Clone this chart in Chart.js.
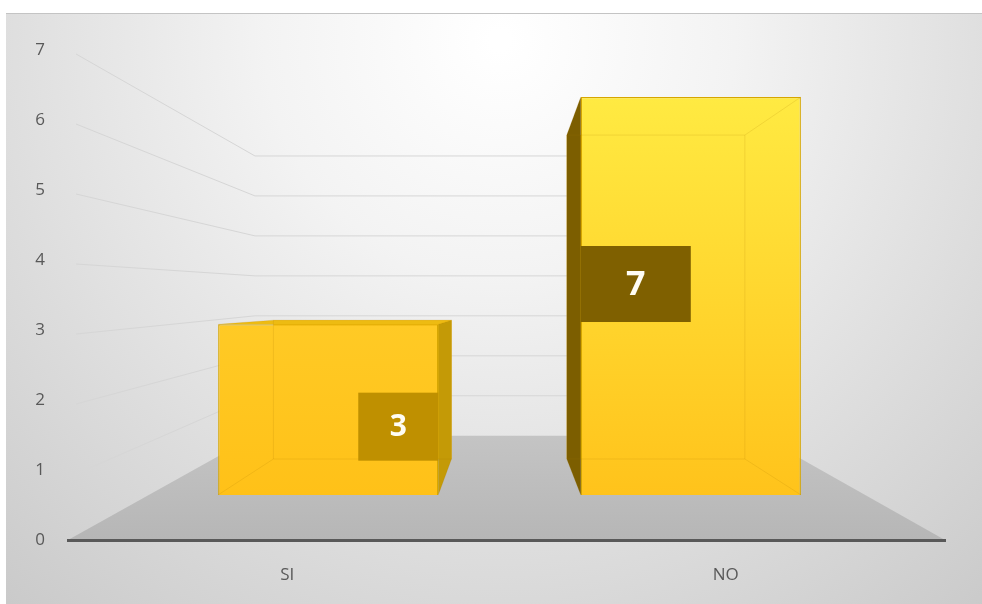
<!DOCTYPE html>
<html>
<head>
<meta charset="utf-8">
<script src="https://cdn.jsdelivr.net/npm/chart.js@4.4.1/dist/chart.umd.min.js"></script>
<style>
  html, body { margin: 0; padding: 0; background: #fff; }
  canvas { display: block; }
</style>
</head>
<body>
<canvas id="chart" width="982" height="604"></canvas>
<script>
const categories = ['SI', 'NO']
const counts = [3, 7]
const yTicks = [0, 1, 2, 3, 4, 5, 6, 7]

// depth planes of the 3d box: scale about a vanishing point, from the front plane
const planes = {
    barFront: {sx: 0.827, sy: 0.812, vx: 524, vy: 300},
    barBack: {sx: 0.669, sy: 0.661, vx: 514.5, vy: 301},
    wall: {sx: 0.576, sy: 0.571, vx: 509, vy: 297}
}
const proj = (p, x, y) => ({x: p.vx + p.sx * (x - p.vx), y: p.vy + p.sy * (y - p.vy)})

// per bar look
const faceTop = ['#FFCA25', '#FFEA42']
const faceBottom = ['#FFC118', '#FFC31B']
const sideLeft = '#7C5E00'
const sideRight = '#C49A06'
const topColor = '#EDBB12'
const labelBoxes = [
    {w: 80, h: 68, align: 'right', at: 0.6, fill: '#BF9000', size: 30},
    {w: 110, h: 76, align: 'left', at: 0.47, fill: '#7F6000', size: 34}
]
const tickFont = {size: 17, family: '"Open Sans", sans-serif'}

const poly = (ctx, pts) => {
    ctx.beginPath()
    ctx.moveTo(pts[0].x, pts[0].y)
    pts.slice(1).forEach(p => ctx.lineTo(p.x, p.y))
    ctx.closePath()
}

const barBox = bar => {
    const {x, y, base, width} = bar.getProps(['x', 'y', 'base', 'width'], true)
    return {l: x - width / 2, r: x + width / 2, t: y, b: base}
}

const scene3d = {
    id: 'scene3d',
    beforeDraw(chart) {
        const {ctx, width, height, chartArea: a, scales: {y}} = chart
        ctx.save()
        ctx.fillStyle = '#fff'
        ctx.fillRect(0, 0, width, height)

        const g = ctx.createRadialGradient(500, 40, 10, 500, 40, 760)
        g.addColorStop(0, '#ffffff')
        g.addColorStop(0.3, '#f3f3f3')
        g.addColorStop(0.75, '#d8d8d8')
        g.addColorStop(1, '#c9c9c9')
        ctx.fillStyle = g
        ctx.fillRect(6, 13, width - 6, height - 13)
        ctx.strokeStyle = '#c4c4c4'
        ctx.lineWidth = 1
        ctx.beginPath()
        ctx.moveTo(6, 13.5)
        ctx.lineTo(width, 13.5)
        ctx.stroke()

        // floor
        const w = planes.wall
        const bl = proj(w, a.left, a.bottom), br = proj(w, a.right, a.bottom)
        const fg = ctx.createLinearGradient(0, bl.y, 0, a.bottom)
        fg.addColorStop(0, '#c4c4c4')
        fg.addColorStop(1, '#b6b6b6')
        ctx.fillStyle = fg
        poly(ctx, [{x: a.left, y: a.bottom}, {x: a.right, y: a.bottom}, br, bl])
        ctx.fill()

        // side wall and back wall grid lines
        ctx.strokeStyle = '#d6d6d6'
        ctx.lineWidth = 1
        y.ticks.forEach(t => {
            if (t.value === 0) return
            const py = y.getPixelForValue(t.value)
            const p0 = proj(w, a.left, py), p1 = proj(w, a.right, py)
            ctx.beginPath()
            ctx.moveTo(a.left + 8, py + 4)
            ctx.lineTo(p0.x, p0.y)
            ctx.lineTo(p1.x, p1.y)
            ctx.stroke()
        })
        ctx.restore()
    },
    beforeDatasetsDraw(chart) {
        const {ctx} = chart
        const F = planes.barFront, B = planes.barBack
        ctx.save()
        chart.getDatasetMeta(0).data.forEach((bar, i) => {
            const r = barBox(bar)
            const fTL = proj(F, r.l, r.t), fTR = proj(F, r.r, r.t)
            const fBL = proj(F, r.l, r.b), fBR = proj(F, r.r, r.b)
            const bTL = proj(B, r.l, r.t), bTR = proj(B, r.r, r.t)
            const bBL = proj(B, r.l, r.b), bBR = proj(B, r.r, r.b)

            ctx.fillStyle = faceBottom[i]
            poly(ctx, [bTL, bTR, bBR, bBL])
            ctx.fill()

            if (bTR.x > fTR.x) {
                ctx.fillStyle = sideRight
                poly(ctx, [fTR, bTR, bBR, fBR])
                ctx.fill()
            }
            if (bTL.x < fTL.x) {
                ctx.fillStyle = sideLeft
                poly(ctx, [fTL, bTL, bBL, fBL])
                ctx.fill()
            }
            if (bTL.y < fTL.y) {
                ctx.fillStyle = topColor
                poly(ctx, [fTL, fTR, bTR, bTL])
                ctx.fill()
            }
        })
        ctx.restore()

        // the bars themselves are drawn by Chart.js on the front face plane
        ctx.save()
        ctx.translate(F.vx, F.vy)
        ctx.scale(F.sx, F.sy)
        ctx.translate(-F.vx, -F.vy)
    },
    afterDatasetsDraw(chart) {
        const {ctx} = chart
        ctx.restore()
        const F = planes.barFront, B = planes.barBack
        const values = chart.data.datasets[0].data
        ctx.save()
        chart.getDatasetMeta(0).data.forEach((bar, i) => {
            const r = barBox(bar)
            const fTL = proj(F, r.l, r.t), fBR = proj(F, r.r, r.b)
            const fTR = proj(F, r.r, r.t), fBL = proj(F, r.l, r.b)
            const bTL = proj(B, r.l, r.t), bTR = proj(B, r.r, r.t)
            const bBL = proj(B, r.l, r.b), bBR = proj(B, r.r, r.b)

            // back edges faintly through the face
            ctx.strokeStyle = 'rgba(170, 120, 0, 0.16)'
            ctx.lineWidth = 1
            poly(ctx, [bTL, bTR, bBR, bBL])
            ctx.stroke()
            ;[[bTL, fTL], [bTR, fTR], [bBR, fBR], [bBL, fBL]].forEach(([p, q]) => {
                ctx.beginPath()
                ctx.moveTo(p.x, p.y)
                ctx.lineTo(q.x, q.y)
                ctx.stroke()
            })

            // value label box
            const lb = labelBoxes[i]
            const bx = lb.align === 'right' ? fBR.x - lb.w : fTL.x
            const cy = fTL.y + (fBR.y - fTL.y) * lb.at
            ctx.fillStyle = lb.fill
            ctx.fillRect(bx, cy - lb.h / 2, lb.w, lb.h)
            ctx.fillStyle = '#fffdf4'
            ctx.font = `bold ${lb.size}px "Open Sans", sans-serif`
            ctx.textAlign = 'center'
            ctx.textBaseline = 'middle'
            ctx.fillText(String(values[i]), bx + lb.w / 2, cy + 1)
        })
        ctx.restore()
    }
}

new Chart(document.getElementById('chart'), {
    type: 'bar',
    data: {
        labels: categories,
        datasets: [{
            data: counts,
            backgroundColor(c) {
                const {chart, dataIndex} = c
                const y = chart.scales.y
                if (!chart.chartArea || !y || dataIndex === undefined) return faceBottom[0]
                const top = y.getPixelForValue(counts[dataIndex])
                const bottom = y.getPixelForValue(0)
                if (!isFinite(top) || !isFinite(bottom)) return faceBottom[dataIndex]
                const g = chart.ctx.createLinearGradient(0, top, 0, bottom)
                g.addColorStop(0, faceTop[dataIndex])
                g.addColorStop(1, faceBottom[dataIndex])
                return g
            },
            borderColor: '#D6A600',
            borderWidth: 1.5,
            barPercentage: 0.607,
            categoryPercentage: 1
        }]
    },
    options: {
        responsive: false,
        animation: false,
        layout: {padding: {top: 50, left: 8, right: 37, bottom: 0}},
        plugins: {legend: {display: false}, tooltip: {enabled: false}},
        scales: {
            x: {
                afterFit(s) { s.height = 64 },
                grid: {display: false, drawTicks: false},
                border: {display: true, color: '#595959', width: 3},
                ticks: {color: '#595959', font: tickFont, padding: 25}
            },
            y: {
                min: yTicks[0],
                max: yTicks[yTicks.length - 1],
                afterBuildTicks(s) { s.ticks = yTicks.map(v => ({value: v})) },
                afterFit(s) { s.width = 60 },
                grid: {display: false, drawTicks: false},
                border: {display: false},
                ticks: {color: '#595959', font: tickFont, padding: 23}
            }
        }
    },
    plugins: [scene3d]
})
</script>
</body>
</html>
